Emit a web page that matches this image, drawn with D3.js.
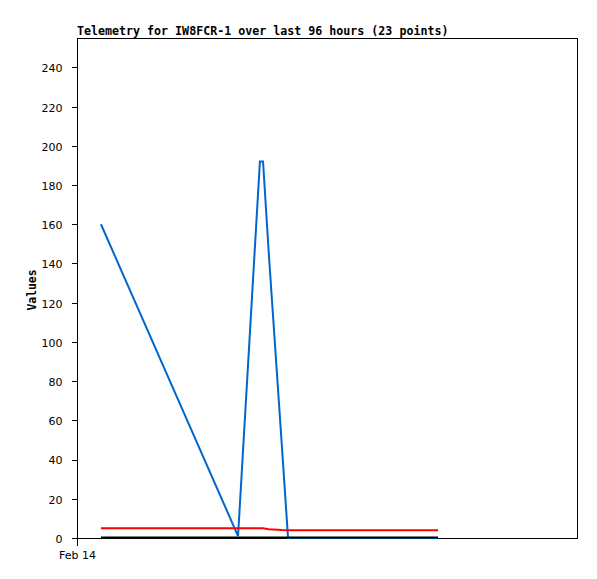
<!DOCTYPE html>
<html>
<head>
<meta charset="utf-8">
<script src="https://cdn.jsdelivr.net/npm/d3@7"></script>
<style>
  body { margin: 0; background: #fff; }
  svg { display: block; }
</style>
</head>
<body>
<div id="chart"></div>
<script>
// hours after Feb 14 00:00 for each of the 23 points
const hours = [1.15, 7.73, 8.78, 8.93, 9.2, 9.84, 10.13, 10.6, 11.1, 11.5, 12.0, 12.4,
  12.9, 13.3, 13.8, 14.2, 14.7, 15.1, 15.6, 16.0, 16.5, 16.9, 17.33];
const blueVals = [160, 1, 192, 192, 146, 46, 0, 0, 0, 0, 0, 0, 0, 0, 0, 0, 0, 0, 0, 0, 0, 0, 0];
const redVals = [5, 5, 5, 5, 4.5, 4.1, 4, 4, 4, 4, 4, 4, 4, 4, 4, 4, 4, 4, 4, 4, 4, 4, 4];
const blackVals = [0, 0, 0, 0, 0, 0, 0, 0, 0, 0, 0, 0, 0, 0, 0, 0, 0, 0, 0, 0, 0, 0, 0];
const yTicks = [0, 20, 40, 60, 80, 100, 120, 140, 160, 180, 200, 220, 240];
const xTickLabels = ["Feb 14"];

const width = 597, height = 579;
const mLeft = 77, mTop = 38, mRight = 577, mBottom = 538;
const start = new Date(2024, 1, 14, 0, 0);
const times = hours.map(h => new Date(start.getTime() + h * 3600 * 1000));

const svg = d3.select("#chart").append("svg")
  .attr("width", width)
  .attr("height", height);

const x = d3.scaleTime()
  .domain([start, new Date(start.getTime() + 24 * 3600 * 1000)])
  .range([mLeft, mRight]);
const y = d3.scaleLinear().domain([0, 255]).range([mBottom, mTop]);

// frame
svg.append("rect")
  .attr("x", mLeft + 0.5).attr("y", mTop + 0.5)
  .attr("width", mRight - mLeft).attr("height", mBottom - mTop)
  .attr("fill", "none").attr("stroke", "#000")
  .attr("shape-rendering", "crispEdges");

const yAxis = svg.append("g")
  .attr("transform", "translate(" + (mLeft + 0.5) + ",0)")
  .call(d3.axisLeft(y).tickValues(yTicks).tickSize(6).tickPadding(9));
const xAxis = svg.append("g")
  .attr("transform", "translate(0," + (mBottom + 0.5) + ")")
  .call(d3.axisBottom(x).tickValues([start]).tickSize(7).tickPadding(6)
    .tickFormat((d, i) => xTickLabels[i]));

[yAxis, xAxis].forEach(g => {
  g.select(".domain").remove();
  g.selectAll("line").attr("shape-rendering", "crispEdges");
  g.selectAll("text")
    .style("font-family", "'DejaVu Sans', sans-serif")
    .style("font-size", "11px")
    .attr("fill", "#000");
});
yAxis.selectAll("text").attr("dy", "0.4em");

const line = vals => d3.line()
  .x((d, i) => x(times[i]))
  .y(d => y(d))(vals);

svg.append("path").attr("d", line(blueVals))
  .attr("fill", "none").attr("stroke", "#0066cc").attr("stroke-width", 2);
svg.append("path").attr("d", line(redVals))
  .attr("fill", "none").attr("stroke", "#ff0000").attr("stroke-width", 2);
svg.append("path").attr("d", line(blackVals))
  .attr("fill", "none").attr("stroke", "#000").attr("stroke-width", 2)
  .attr("transform", "translate(0,-0.5)");

svg.append("text")
  .attr("x", mLeft).attr("y", 35)
  .style("font-family", "'DejaVu Sans Mono', monospace")
  .style("font-weight", "bold")
  .style("font-size", "11.65px")
  .text("Telemetry for IW8FCR-1 over last 96 hours (23 points)");

svg.append("text")
  .attr("transform", "translate(36," + ((mTop + mBottom) / 2 + 2) + ") rotate(-90)")
  .attr("text-anchor", "middle")
  .style("font-family", "'DejaVu Sans Mono', monospace")
  .style("font-weight", "bold")
  .style("font-size", "11.4px")
  .text("Values");
</script>
</body>
</html>
